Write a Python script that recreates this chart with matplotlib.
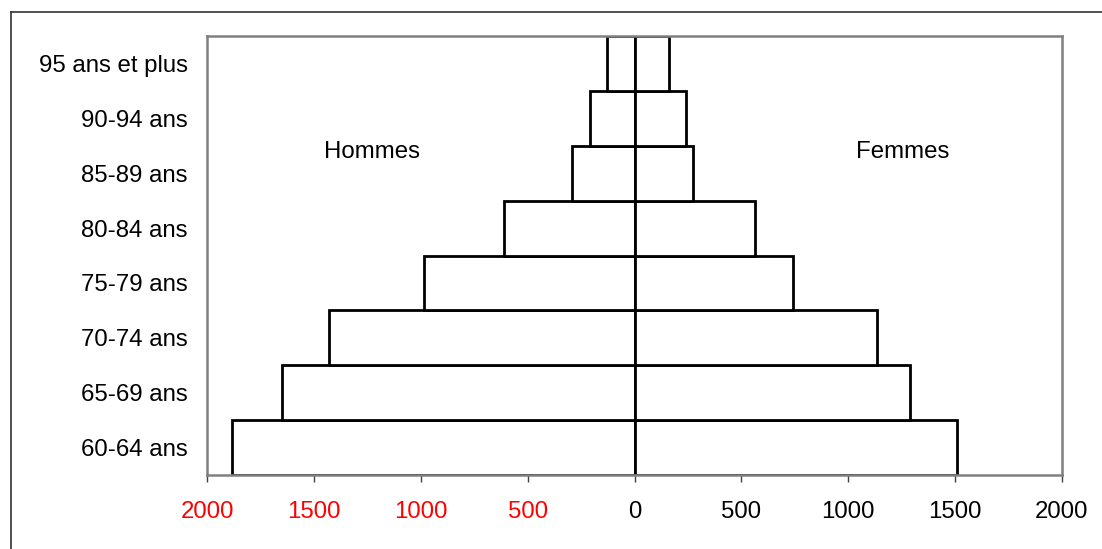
import matplotlib
matplotlib.use("Agg")
import matplotlib.pyplot as plt
from matplotlib.lines import Line2D

plt.rcParams['font.family'] = ['Liberation Sans', 'DejaVu Sans']

categories = ["60-64 ans", "65-69 ans", "70-74 ans", "75-79 ans",
              "80-84 ans", "85-89 ans", "90-94 ans", "95 ans et plus"]
hommes = [1881, 1647, 1430, 985, 609, 292, 209, 130]
femmes = [1511, 1287, 1133, 743, 564, 272, 239, 162]
xticks = [-2000, -1500, -1000, -500, 0, 500, 1000, 1500, 2000]
xticklabels = ["2000", "1500", "1000", "500", "0", "500", "1000", "1500", "2000"]

DPI = 100
fig = plt.figure(figsize=(11.02, 5.49), dpi=DPI)
ax = fig.add_axes([207/1102, 1-475/549, (1062-207)/1102, (475-36)/549])

y = list(range(len(categories)))
ax.barh(y, [-h for h in hommes], height=1.0, color='white', edgecolor='black', linewidth=2.0, zorder=2)
ax.barh(y, femmes, height=1.0, color='white', edgecolor='black', linewidth=2.0, zorder=2)

ax.set_xlim(-2000, 2000)
ax.set_ylim(-0.5, len(categories) - 0.5)
ax.set_yticks(y)
ax.set_yticklabels(categories, fontsize=17.3)
ax.tick_params(axis='y', length=0, pad=14)
for lbl in ax.get_yticklabels():
    lbl.set_y(lbl.get_position()[1])
ax.set_xticks(xticks)
ax.set_xticklabels(xticklabels, fontsize=17.3)
ax.tick_params(axis='x', length=5, width=1, color='#404040', pad=13.5)
for lbl, v in zip(ax.get_xticklabels(), xticks):
    lbl.set_color('#FF0000' if v < 0 else 'black')

for s in ax.spines.values():
    s.set_color('#808080')
    s.set_linewidth(1.8)

ax.text((371.7-207)/855, (475-152.5)/439, "Hommes", transform=ax.transAxes,
        ha='center', va='center', fontsize=17.3)
ax.text((902.5-207)/855, (475-152.5)/439, "Femmes", transform=ax.transAxes,
        ha='center', va='center', fontsize=17.3)

# outer chart border
x0 = 11/1102
y0 = 1 - 12/549
fig.add_artist(Line2D([x0, 1.0], [y0, y0], transform=fig.transFigure, color='#333333', linewidth=1.2))
fig.add_artist(Line2D([x0, x0], [0.0, y0], transform=fig.transFigure, color='#333333', linewidth=1.2))

fig.savefig("out.png", dpi=DPI)
